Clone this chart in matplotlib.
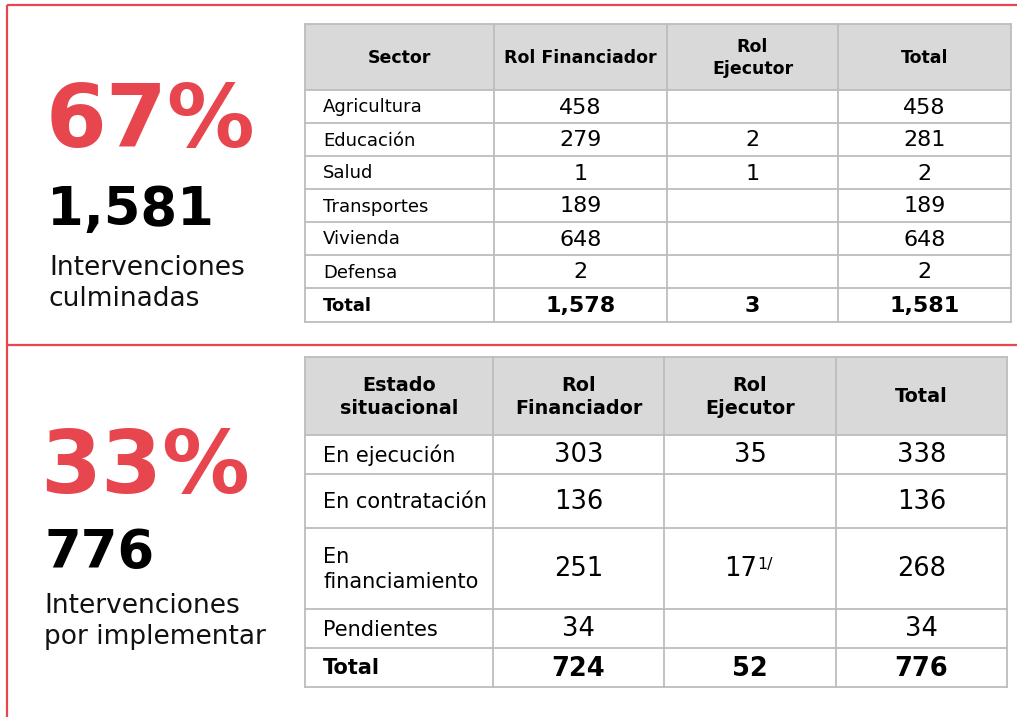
import matplotlib
matplotlib.use("Agg")
import matplotlib.pyplot as plt
from matplotlib.patches import Rectangle

plt.rcParams['font.family'] = ['DejaVu Sans']

RED = '#E8464E'
GRID = '#BDBDBD'
HEAD = '#D9D9D9'

# ---------------- data ----------------
pct_top = "67%"
count_top = "1,581"
desc_top = "Intervenciones\nculminadas"
top_headers = ["Sector", "Rol Financiador", "Rol\nEjecutor", "Total"]
sectors = ["Agricultura", "Educación", "Salud", "Transportes", "Vivienda", "Defensa", "Total"]
fin_top = ["458", "279", "1", "189", "648", "2", "1,578"]
eje_top = ["", "2", "1", "", "", "", "3"]
tot_top = ["458", "281", "2", "189", "648", "2", "1,581"]

pct_bot = "33%"
count_bot = "776"
desc_bot = "Intervenciones\npor implementar"
bot_headers = ["Estado\nsituacional", "Rol\nFinanciador", "Rol\nEjecutor", "Total"]
estados = ["En ejecución", "En contratación", "En\nfinanciamiento", "Pendientes", "Total"]
fin_bot = ["303", "136", "251", "34", "724"]
eje_bot = ["35", "", "17", "", "52"]
eje_bot_note = ["", "", "1/", "", ""]
tot_bot = ["338", "136", "268", "34", "776"]

# ---------------- layout ----------------
fig = plt.figure(figsize=(10.17, 7.17), dpi=100)
ax = fig.add_axes([0, 0, 1, 1])
ax.set_xlim(0, 1017)
ax.set_ylim(717, 0)
ax.axis('off')

# red frame
ax.plot([7, 7], [5, 717], color=RED, lw=1.6, solid_capstyle='butt')
ax.plot([7, 1017], [5, 5], color=RED, lw=1.6, solid_capstyle='butt')
ax.plot([7, 1017], [345, 345], color=RED, lw=1.6, solid_capstyle='butt')


def draw_table(cols, rows, headers, labels, columns, notes, hfs, lfs, nfs):
    # header fill
    ax.add_patch(Rectangle((cols[0], rows[0]), cols[-1] - cols[0], rows[1] - rows[0],
                           facecolor=HEAD, edgecolor='none', zorder=1))
    for y in rows:
        ax.plot([cols[0], cols[-1]], [y, y], color=GRID, lw=1.3, zorder=2)
    for x in cols:
        ax.plot([x, x], [rows[0], rows[-1]], color=GRID, lw=1.3, zorder=2)
    # headers
    for j, h in enumerate(headers):
        cx = (cols[j] + cols[j + 1]) / 2
        cy = (rows[0] + rows[1]) / 2
        ax.text(cx, cy + 1, h, ha='center', va='center', fontsize=hfs,
                fontweight='bold', linespacing=1.3, zorder=3)
    nrows = len(labels)
    for i in range(nrows):
        cy = (rows[i + 1] + rows[i + 2]) / 2
        last = (i == nrows - 1)
        w = 'bold' if last else 'normal'
        ax.text(cols[0] + 18, cy + 1, labels[i], ha='left', va='center',
                fontsize=lfs, fontweight=w, linespacing=1.3, zorder=3)
        for j, col in enumerate(columns):
            cx = (cols[j + 1] + cols[j + 2]) / 2
            note = notes[j][i] if notes[j] is not None else ""
            if note:
                t = ax.text(cx - 9, cy + 1, col[i], ha='center', va='center',
                            fontsize=nfs, fontweight=w, zorder=3)
                ax.annotate(note, xy=(1.0, 1.0), xycoords=t, ha='left', va='top',
                            fontsize=nfs * 0.62, fontweight=w, zorder=3)
            else:
                ax.text(cx, cy + 1, col[i], ha='center', va='center',
                        fontsize=nfs, fontweight=w, zorder=3)


draw_table([305, 494, 667, 838, 1011],
           [24, 90, 123, 156, 189, 222, 255, 288, 322],
           top_headers, sectors, [fin_top, eje_top, tot_top], [None, None, None],
           hfs=12.5, lfs=13, nfs=16)

draw_table([305, 493, 664, 836, 1007],
           [357, 435, 474, 528, 609, 648, 687],
           bot_headers, estados, [fin_bot, eje_bot, tot_bot], [None, eje_bot_note, None],
           hfs=13.8, lfs=15, nfs=18.5)

# left side big figures
ax.text(46, 147, pct_top, ha='left', va='baseline', fontsize=63, fontweight='bold', color=RED)
ax.text(47, 225, count_top, ha='left', va='baseline', fontsize=38, fontweight='bold', color='black')
ax.text(49, 275, desc_top.split("\n")[0], ha='left', va='baseline', fontsize=19, color='#111111')
ax.text(49, 306, desc_top.split("\n")[1], ha='left', va='baseline', fontsize=19, color='#111111')

ax.text(40, 493, pct_bot, ha='left', va='baseline', fontsize=63, fontweight='bold', color=RED)
ax.text(45, 568, count_bot, ha='left', va='baseline', fontsize=38, fontweight='bold', color='black')
ax.text(44, 613, desc_bot.split("\n")[0], ha='left', va='baseline', fontsize=19, color='#111111')
ax.text(44, 644, desc_bot.split("\n")[1], ha='left', va='baseline', fontsize=19, color='#111111')

fig.savefig("out.png", dpi=100, facecolor='white')
